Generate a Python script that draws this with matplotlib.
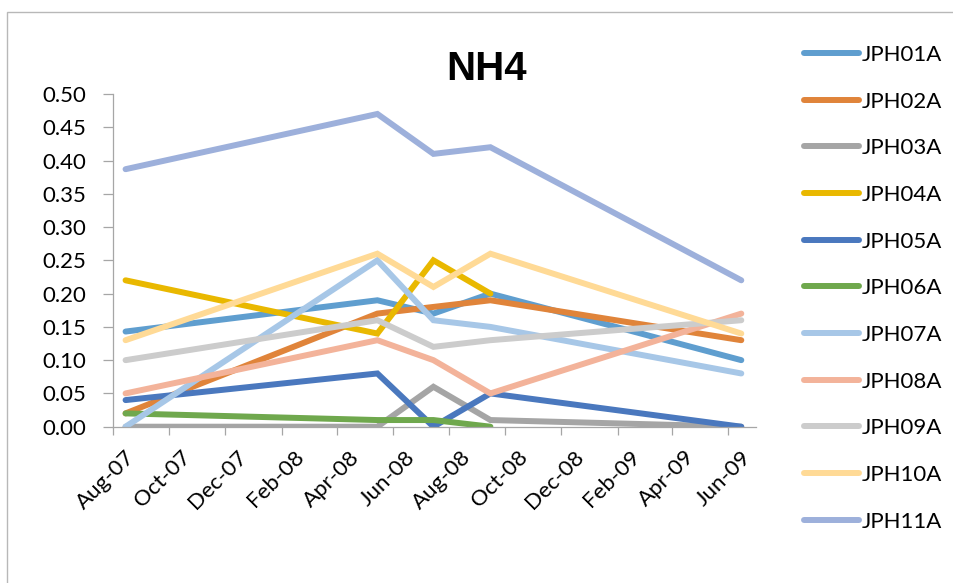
import numpy as np
import matplotlib
matplotlib.use("Agg")
import matplotlib.pyplot as plt
import matplotlib.dates as mdates
import matplotlib.transforms as mtransforms
from matplotlib.patches import Rectangle
from datetime import date

plt.rcParams['font.family'] = ['Lato', 'DejaVu Sans']

# sampling dates and NH4 readings per site
dates = [date(2007, 8, 15), date(2008, 5, 15), date(2008, 7, 15),
         date(2008, 9, 15), date(2009, 6, 15)]
nan = np.nan
jph01a = [0.143, 0.19, 0.17, 0.20, 0.10]
jph02a = [0.02, 0.17, 0.18, 0.19, 0.13]
jph03a = [0.0, 0.0, 0.06, 0.01, 0.0]
jph04a = [0.22, 0.14, 0.25, 0.20, nan]
jph05a = [0.04, 0.08, 0.0, 0.05, 0.0]
jph06a = [0.02, 0.01, 0.01, 0.0, nan]
jph07a = [0.0, 0.25, 0.16, 0.15, 0.08]
jph08a = [0.05, 0.13, 0.10, 0.05, 0.17]
jph09a = [0.10, 0.16, 0.12, 0.13, 0.16]
jph10a = [0.13, 0.26, 0.21, 0.26, 0.14]
jph11a = [0.387, 0.47, 0.41, 0.42, 0.22]

series = {
    "JPH01A": (jph01a, "#5F9ECF"),
    "JPH02A": (jph02a, "#E0843A"),
    "JPH03A": (jph03a, "#A5A5A5"),
    "JPH04A": (jph04a, "#E9B800"),
    "JPH05A": (jph05a, "#4A78BE"),
    "JPH06A": (jph06a, "#6FA84D"),
    "JPH07A": (jph07a, "#A7C7E7"),
    "JPH08A": (jph08a, "#F3B39A"),
    "JPH09A": (jph09a, "#CCCCCC"),
    "JPH10A": (jph10a, "#FFDA96"),
    "JPH11A": (jph11a, "#9DB0DB"),
}

W, H = 954, 583
fig = plt.figure(figsize=(W / 100, H / 100), dpi=100)
ax = fig.add_axes([112.7 / W, 1 - 426.7 / H, (756 - 112.7) / W, (426.7 - 94) / H])

# chart border
fig.patches.append(Rectangle((7 / W, -0.1), 1.2, 1 - 12 / H + 0.1,
                             transform=fig.transFigure, fill=False,
                             edgecolor="#B8B8B8", lw=1.0))

for name, (vals, col) in series.items():
    ax.plot(dates, vals, color=col, lw=4.3, label=name,
            solid_capstyle="round", solid_joinstyle="miter")

ax.set_ylim(0, 0.5)
ax.set_yticks(np.arange(0, 0.501, 0.05))
ax.yaxis.set_major_formatter(plt.FuncFormatter(lambda v, p: f"{v:.2f}"))
ax.set_xlim(date(2007, 8, 1), date(2009, 7, 1))
ax.xaxis.set_major_locator(mdates.MonthLocator(bymonth=[2, 4, 6, 8, 10, 12]))
ax.xaxis.set_major_formatter(mdates.DateFormatter("%b-%y"))

for s in ["top", "right"]:
    ax.spines[s].set_visible(False)
for s in ["left", "bottom"]:
    ax.spines[s].set_color("#A6A6A6")
    ax.spines[s].set_linewidth(0.9)

ax.tick_params(axis="y", length=7, width=0.9, color="#A6A6A6", pad=12,
               labelsize=16)
ax.tick_params(axis="x", length=5.5, width=0.9, color="#A6A6A6", pad=4,
               labelsize=16)
shift = mtransforms.ScaledTranslation(0.12, -0.07, fig.dpi_scale_trans)
for lab in ax.get_xticklabels():
    lab.set_rotation(45)
    lab.set_ha("right")
    lab.set_va("top")
    lab.set_rotation_mode("anchor")
    lab.set_transform(lab.get_transform() + shift)

fig.text(487 / W, 1 - 69 / H, "NH4", ha="center", va="center",
         fontsize=29, fontweight="bold", family="Liberation Sans")

leg = fig.legend(loc="upper left", bbox_to_anchor=(795 / W, 1 - 36 / H),
                 frameon=False, fontsize=16, handlelength=2.5,
                 handletextpad=0.1, labelspacing=1.2, borderaxespad=0)

fig.savefig("out.png", dpi=100)
